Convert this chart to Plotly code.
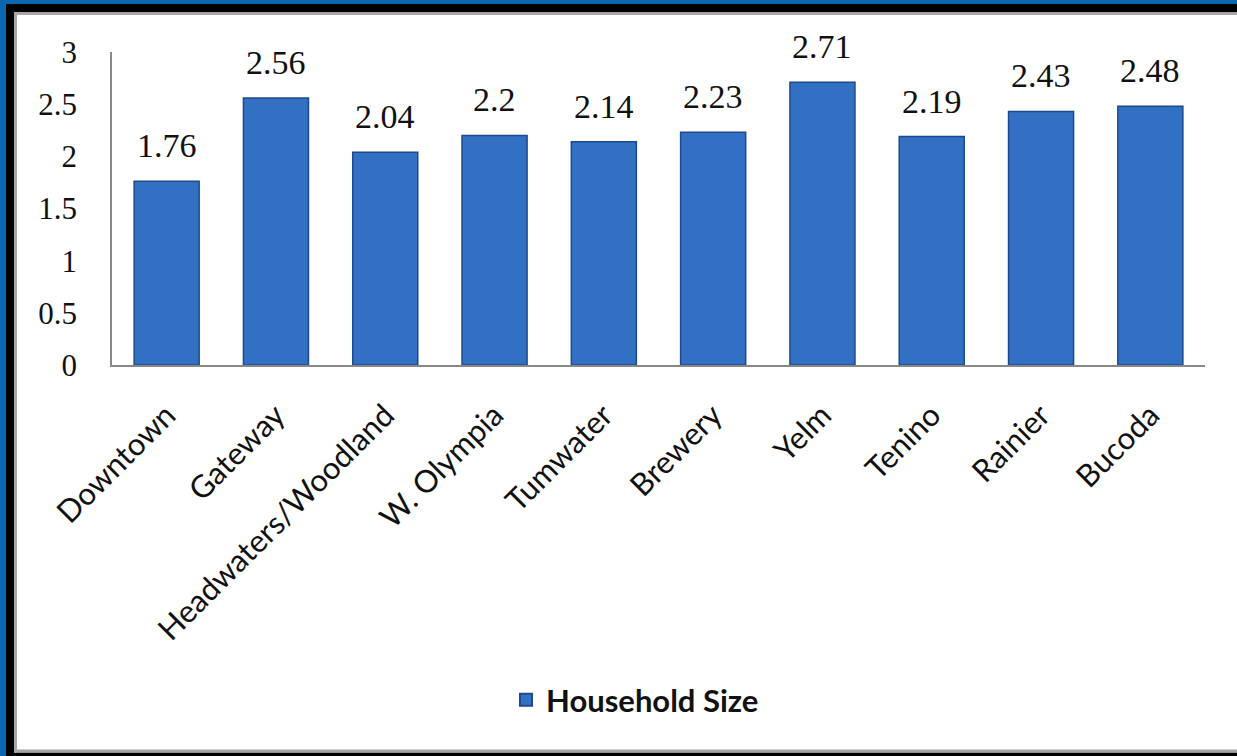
import plotly.graph_objects as go

categories = ["Downtown", "Gateway", "Headwaters/Woodland", "W. Olympia", "Tumwater",
              "Brewery", "Yelm", "Tenino", "Rainier", "Bucoda"]
household_size = [1.76, 2.56, 2.04, 2.2, 2.14, 2.23, 2.71, 2.19, 2.43, 2.48]
value_labels = ["1.76", "2.56", "2.04", "2.2", "2.14", "2.23", "2.71", "2.19", "2.43", "2.48"]
y_ticks = [0, 0.5, 1, 1.5, 2, 2.5, 3]
y_tick_text = ["0", "0.5", "1", "1.5", "2", "2.5", "3"]
series_name = "Household Size"

W, H = 1237, 756
ML, MR, MT, MB = 112, 32, 52, 391
PW, PH = W - ML - MR, H - MT - MB


def px(x):
    return (x - ML) / PW


def py(y):
    return (H - MB - y) / PH


def rect(x0, y0, x1, y1, color):
    return dict(type="rect", xref="paper", yref="paper", layer="below",
                x0=px(x0), x1=px(x1), y0=py(y1), y1=py(y0),
                fillcolor=color, line=dict(width=0))


fig = go.Figure()
fig.add_trace(go.Bar(
    x=categories, y=household_size, name=series_name,
    marker=dict(color="#3170c2", line=dict(color="#1d4a8c", width=1.5)),
    showlegend=True,
))

annotations = [
    dict(x=c, y=v, text=t, xref="x", yref="y", showarrow=False,
         yanchor="bottom", yshift=15,
         font=dict(family="Liberation Serif", size=34, color="#111111"))
    for c, v, t in zip(categories, household_size, value_labels)
]

shapes = [
    rect(0, 0, 6, H, "#0a67b0"),
    rect(0, 0, W, 4, "#0a67b0"),
    rect(6, 4, 14, H, "#000000"),
    rect(6, 4, W, 12, "#000000"),
    rect(6, 752.5, W, H, "#000000"),
    rect(14, 12, 17, 752.5, "#a6a6a6"),
    rect(14, 12, W, 15, "#a6a6a6"),
    rect(14, 749.5, W, 752.5, "#a6a6a6"),
]

fig.update_layout(
    width=W, height=H,
    margin=dict(l=ML, r=MR, t=MT, b=MB, pad=0),
    paper_bgcolor="#ffffff",
    plot_bgcolor="rgba(0,0,0,0)",
    bargap=0.405,
    annotations=annotations,
    shapes=shapes,
    showlegend=True,
    legend=dict(orientation="h", x=px(506), xanchor="left", y=py(700), yanchor="middle",
                font=dict(family="Lato", size=31, color="#111111", weight="bold"),
                bgcolor="rgba(0,0,0,0)", itemsizing="constant"),
    xaxis=dict(tickangle=-45, showline=True, linecolor="#888888", linewidth=1.5,
               ticks="", showgrid=False, ticklabelstandoff=18,
               tickfont=dict(family="Lato", size=31, color="#111111")),
    yaxis=dict(range=[0, 3], tickvals=y_ticks, ticktext=y_tick_text,
               showline=True, linecolor="#888888", linewidth=1.5,
               ticks="", showgrid=False, zeroline=False, ticklabelstandoff=27,
               tickfont=dict(family="Liberation Serif", size=31, color="#111111")),
)

fig.write_html(
    "out.html", config={"displayModeBar": False},
    post_script=("document.documentElement.style.overflow='hidden';"
                 "document.documentElement.style.margin='0';"
                 "document.body.style.margin='0';document.body.style.padding='0';"
                 "document.body.style.overflow='hidden';"),
)
